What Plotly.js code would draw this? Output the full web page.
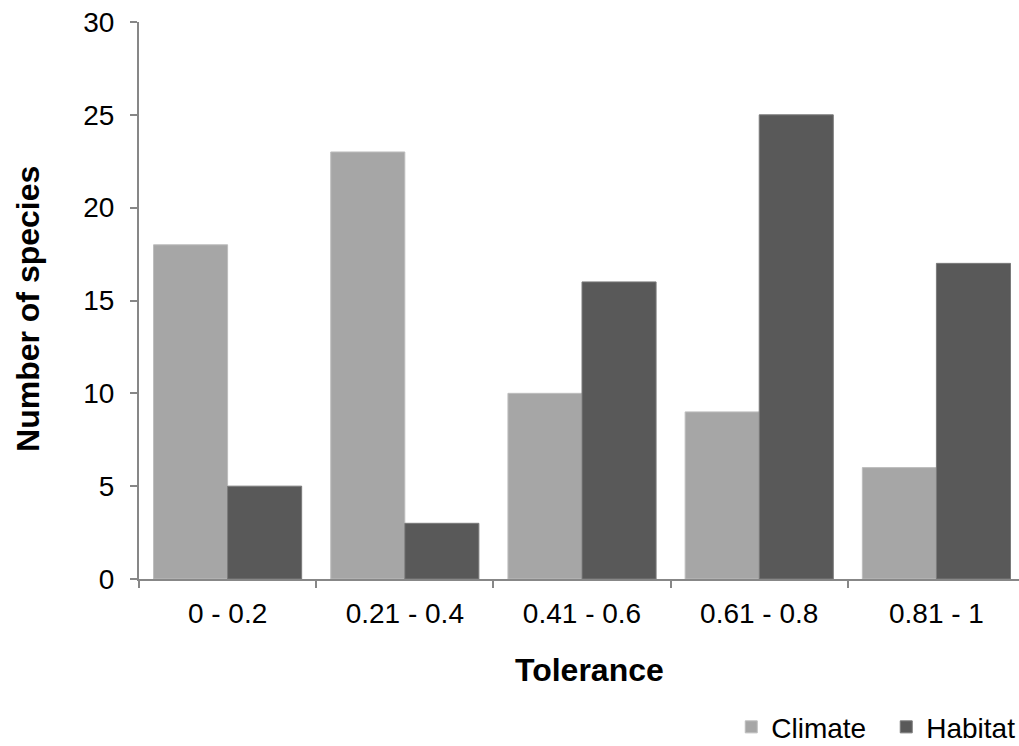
<!DOCTYPE html>
<html>
<head>
<meta charset="utf-8">
<script src="https://cdn.plot.ly/plotly-3.0.1.min.js"></script>
<style>
  html, body { margin: 0; padding: 0; background: #fff; }
  #chart { width: 1019px; height: 746px; }
</style>
</head>
<body>
<div id="chart"></div>
<script>
// Tolerance classes and species counts per class
const categories = ['0 - 0.2', '0.21 - 0.4', '0.41 - 0.6', '0.61 - 0.8', '0.81 - 1'];
const climate = [18, 23, 10, 9, 6];
const habitat = [5, 3, 16, 25, 17];

const axisColor = '#878787';
const font = { family: 'Liberation Sans, Arial, sans-serif', size: 28, color: '#000' };
const titleFont = { family: 'Liberation Sans, Arial, sans-serif', size: 32, color: '#000' };

const traces = [
  {
    type: 'bar', name: 'Climate', x: categories, y: climate,
    marker: { color: '#a6a6a6', line: { color: '#bdbdbd', width: 1 } }
  },
  {
    type: 'bar', name: 'Habitat', x: categories, y: habitat,
    marker: { color: '#595959', line: { color: '#7a7a7a', width: 1 } }
  }
];

const layout = {
  width: 1019, height: 746,
  margin: { l: 139, r: 0, t: 22, b: 167, pad: 0, autoexpand: false },
  paper_bgcolor: '#fff', plot_bgcolor: '#fff',
  font: font,
  barmode: 'group', bargap: 0.164, bargroupgap: 0,
  showlegend: true,
  legend: {
    orientation: 'h', x: 0.673, xanchor: 'left', y: -0.266, yanchor: 'middle',
    font: font, itemwidth: 30, traceorder: 'normal',
    entrywidth: 110, entrywidthmode: 'pixels'
  },
  xaxis: {
    type: 'category', range: [-0.5, 4.466], tickson: 'boundaries',
    automargin: false,
    showline: true, linecolor: axisColor, linewidth: 2,
    ticks: 'outside', ticklen: 7, tickwidth: 2, tickcolor: axisColor,
    showgrid: false, zeroline: false, ticklabelstandoff: 8,
    tickfont: font
  },
  yaxis: {
    range: [0, 30], dtick: 5, tick0: 0,
    automargin: false,
    showline: true, linecolor: axisColor, linewidth: 2,
    ticks: 'outside', ticklen: 7, tickwidth: 2, tickcolor: axisColor,
    showgrid: false, zeroline: false, ticklabelstandoff: 10,
    tickfont: font
  },
  // axis titles placed as paper-anchored annotations
  annotations: [
    {
      text: '<b>Tolerance</b>', font: titleFont, showarrow: false,
      xref: 'paper', yref: 'paper', x: 0.512, y: -0.163,
      xanchor: 'center', yanchor: 'middle'
    },
    {
      text: '<b>Number of species</b>', font: titleFont, showarrow: false,
      textangle: -90,
      xref: 'paper', yref: 'paper', x: -0.126, y: 0.485,
      xanchor: 'center', yanchor: 'middle'
    }
  ]
};

Plotly.newPlot('chart', traces, layout, { displayModeBar: false, staticPlot: true });
</script>
</body>
</html>
